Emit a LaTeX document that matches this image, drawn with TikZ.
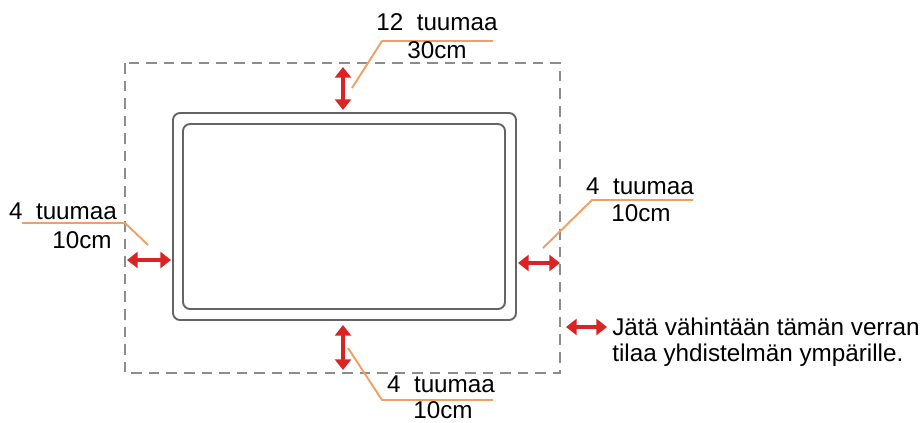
\documentclass[tikz,border=0pt]{standalone}
\usepackage{fontspec}
\setmainfont{Liberation Sans}
\usetikzlibrary{arrows.meta}
\definecolor{arrred}{RGB}{220,35,35}
\definecolor{lead}{RGB}{240,160,100}
\definecolor{dashgray}{RGB}{140,140,140}
\definecolor{tvgray}{RGB}{100,100,100}
\tikzset{
  unit/.style={x=0.02cm,y=-0.02cm},
  gap/.style={draw=arrred,line width=2.2pt,{Triangle[length=6pt,width=9pt]}-{Triangle[length=6pt,width=9pt]}},
  leader/.style={draw=lead,line width=1.1pt},
  lbl/.style={inner sep=0pt,font=\fontsize{13.8}{16}\selectfont,text=black},
  zone/.style={draw=dashgray,line width=1.2pt,dash pattern=on 6pt off 4pt},
  tv/.style={draw=tvgray,line width=1.1pt,rounded corners=4pt}
}
\begin{document}
\begin{tikzpicture}[unit]
\useasboundingbox (0,0) rectangle (921,423);
% zone
\draw[zone] (125,63) rectangle (560,373);
% TV
\draw[tv] (173,113) rectangle (516,320);
\draw[tv] (183,124) rectangle (505,309);
% coordinates for arrows
\coordinate (t1) at (343,67);
\coordinate (t2) at (343,110);
\coordinate (b1) at (343,325);
\coordinate (b2) at (343,370);
\coordinate (l1) at (127,260);
\coordinate (l2) at (171,260);
\coordinate (r1) at (518,263);
\coordinate (r2) at (560,263);
\coordinate (g1) at (566,327);
\coordinate (g2) at (607,327);
\draw[gap] (t1) -- (t2);
\draw[gap] (b1) -- (b2);
\draw[gap] (l1) -- (l2);
\draw[gap] (r1) -- (r2);
\draw[gap] (g1) -- (g2);
% leaders
\coordinate (tA) at (352,88);
\coordinate (tB) at (382,41);
\coordinate (tC) at (493,41);
\draw[leader] (tA) -- (tB) -- (tC);
\coordinate (lA) at (148,245);
\coordinate (lB) at (125,223);
\coordinate (lC) at (22,223);
\draw[leader] (lA) -- (lB) -- (lC);
\coordinate (rA) at (543,248);
\coordinate (rB) at (592,200);
\coordinate (rC) at (693,200);
\draw[leader] (rA) -- (rB) -- (rC);
\coordinate (bA) at (348,348);
\coordinate (bB) at (382,400);
\coordinate (bC) at (493,400);
\draw[leader] (bA) -- (bB) -- (bC);
% labels
\node[lbl] (tT) at (437,22) {12\ \ tuumaa};
\node[lbl] (tM) at (437,50) {30cm};
\node[lbl] (lT) at (63,211) {4\ \ tuumaa};
\node[lbl] (lM) at (82,240) {10cm};
\node[lbl] (rT) at (640,186) {4\ \ tuumaa};
\node[lbl] (rM) at (641,213) {10cm};
\node[lbl] (bT) at (441,384) {4\ \ tuumaa};
\node[lbl] (bM) at (443,410) {10cm};
\node[lbl,anchor=west] (g) at (612,327) {Jätä vähintään tämän verran};
\node[lbl,anchor=west] (g2t) at (612,355) {tilaa yhdistelmän ympärille.};
\end{tikzpicture}
\end{document}
